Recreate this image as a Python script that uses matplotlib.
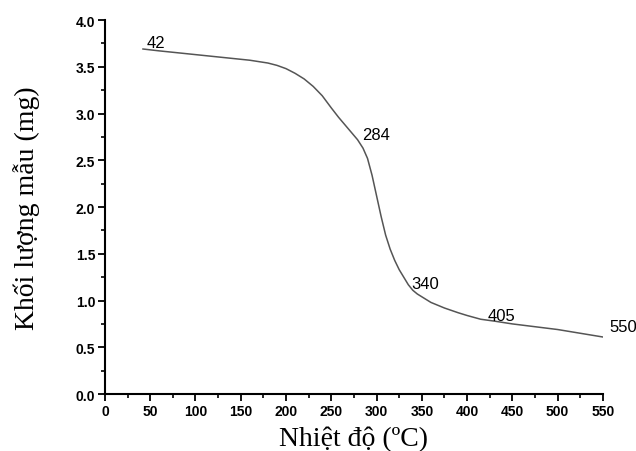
import matplotlib
matplotlib.use("Agg")
import matplotlib.pyplot as plt
from matplotlib.ticker import MultipleLocator, FormatStrFormatter

# TGA curve
temp = [42, 60, 80, 100, 120, 140, 160, 170, 180, 190, 200, 210, 220, 230,
        240, 250, 258, 265, 272, 279, 285, 290, 295, 300, 305, 310, 315,
        320, 325, 330, 335, 340, 345, 350, 360, 375, 390, 400, 415, 430,
        450, 475, 500, 525, 550]
mass = [3.69, 3.67, 3.65, 3.63, 3.61, 3.59, 3.57, 3.555, 3.54, 3.515, 3.48,
        3.43, 3.37, 3.29, 3.19, 3.06, 2.96, 2.88, 2.80, 2.72, 2.63, 2.52,
        2.34, 2.12, 1.90, 1.70, 1.55, 1.43, 1.33, 1.25, 1.17, 1.11, 1.07,
        1.04, 0.98, 0.92, 0.87, 0.84, 0.80, 0.78, 0.75, 0.72, 0.69, 0.65,
        0.61]

# point labels: text, x, y
labels = ["42", "284", "340", "405", "550"]
label_x = [46, 284, 338, 423, 557]
label_y = [3.76, 2.78, 1.18, 0.84, 0.72]

sans = ["Liberation Sans", "DejaVu Sans"]
serif = ["Liberation Serif", "DejaVu Serif"]

fig = plt.figure(figsize=(6.36, 4.52), dpi=100)
ax = fig.add_axes([0.165, 0.126, 0.783, 0.8275])

ax.plot(temp, mass, color="#555555", linewidth=1.1)

for t, x, y in zip(labels, label_x, label_y):
    ax.text(x, y, t, fontsize=12, family=sans, ha="left", va="center",
            clip_on=False)

ax.set_xlim(0, 550)
ax.set_ylim(0, 4.0)
ax.xaxis.set_major_locator(MultipleLocator(50))
ax.xaxis.set_minor_locator(MultipleLocator(25))
ax.yaxis.set_major_locator(MultipleLocator(0.5))
ax.yaxis.set_minor_locator(MultipleLocator(0.25))
ax.yaxis.set_major_formatter(FormatStrFormatter("%.1f"))

for s in ["top", "right"]:
    ax.spines[s].set_visible(False)
for s in ["left", "bottom"]:
    ax.spines[s].set_linewidth(1.5)

ax.tick_params(which="major", direction="out", length=5, width=1.3,
               labelsize=10, pad=2)
ax.tick_params(which="minor", direction="out", length=3, width=1.2)
for lab in ax.get_xticklabels() + ax.get_yticklabels():
    lab.set_family(sans)
    lab.set_fontweight("bold")

ax.set_xlabel("Nhiệt độ (ºC)", family=serif, fontsize=20, labelpad=6)
ax.set_ylabel("Khối lượng mẫu (mg)", family=serif, fontsize=20, labelpad=26)

fig.savefig("out.png", dpi=100)
